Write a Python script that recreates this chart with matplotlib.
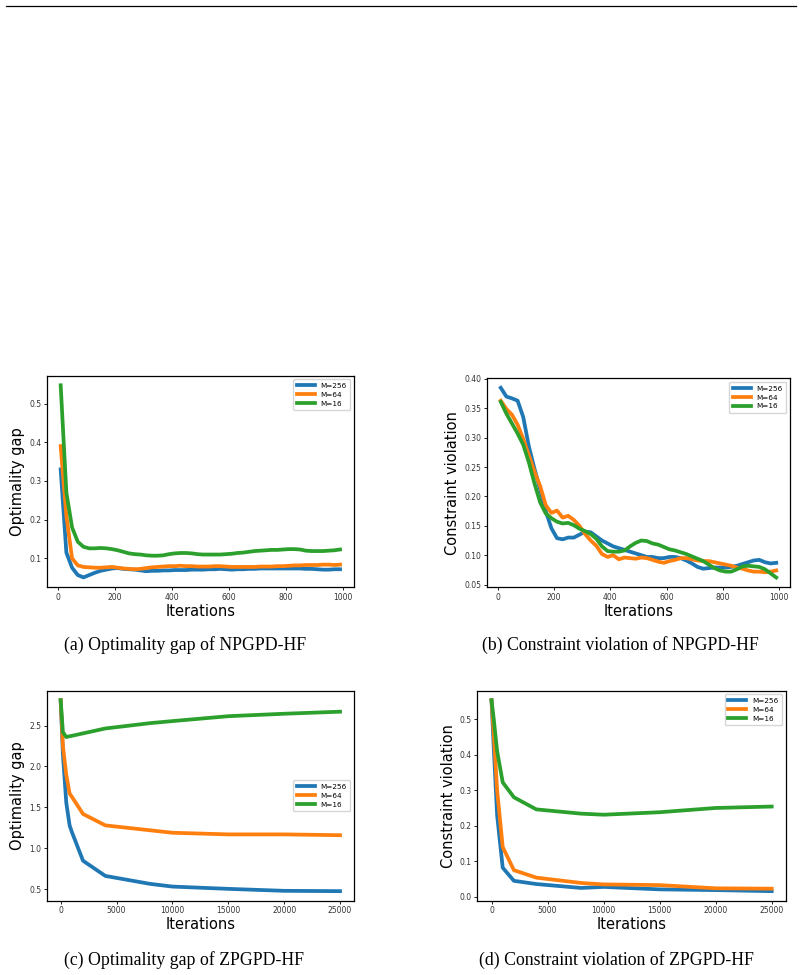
import numpy as np
import matplotlib
matplotlib.use("Agg")
import matplotlib.pyplot as plt
from matplotlib.lines import Line2D

# ---- data ----
labels = ["M=256", "M=64", "M=16"]
colors = ["#1f77b4", "#ff7f0e", "#2ca02c"]

it_np = list(range(10, 1000, 20))

# (a) optimality gap NPGPD-HF
opt_np_256 = [0.33, 0.115, 0.076, 0.057, 0.051, 0.057, 0.063, 0.068, 0.071, 0.074,
              0.075, 0.073, 0.072, 0.071, 0.069, 0.067, 0.068, 0.068, 0.069, 0.069,
              0.070, 0.070, 0.070, 0.071, 0.071, 0.071, 0.072, 0.072, 0.073, 0.072,
              0.071, 0.072, 0.072, 0.073, 0.073, 0.074, 0.074, 0.074, 0.074, 0.074,
              0.074, 0.074, 0.074, 0.073, 0.073, 0.072, 0.071, 0.071, 0.072, 0.072]
opt_np_64 = [0.39, 0.21, 0.10, 0.082, 0.078, 0.077, 0.076, 0.076, 0.077, 0.078,
             0.076, 0.074, 0.073, 0.072, 0.073, 0.075, 0.077, 0.078, 0.079, 0.080,
             0.080, 0.081, 0.080, 0.080, 0.079, 0.079, 0.079, 0.080, 0.080, 0.079,
             0.078, 0.078, 0.078, 0.078, 0.078, 0.079, 0.079, 0.079, 0.080, 0.080,
             0.081, 0.082, 0.082, 0.083, 0.083, 0.083, 0.084, 0.084, 0.083, 0.084]
opt_np_16 = [0.547, 0.27, 0.18, 0.143, 0.130, 0.126, 0.126, 0.127, 0.126, 0.124,
             0.121, 0.117, 0.113, 0.111, 0.110, 0.108, 0.107, 0.107, 0.108, 0.111,
             0.113, 0.114, 0.114, 0.113, 0.111, 0.110, 0.110, 0.110, 0.110, 0.111,
             0.112, 0.114, 0.115, 0.117, 0.119, 0.120, 0.121, 0.122, 0.122, 0.123,
             0.124, 0.124, 0.123, 0.120, 0.119, 0.119, 0.119, 0.120, 0.121, 0.123]

# (b) constraint violation NPGPD-HF
cv_np_256 = [0.385, 0.370, 0.367, 0.363, 0.335, 0.285, 0.247, 0.212, 0.175, 0.146,
             0.129, 0.127, 0.130, 0.130, 0.135, 0.140, 0.139, 0.132, 0.125, 0.120,
             0.115, 0.112, 0.109, 0.106, 0.103, 0.100, 0.097, 0.097, 0.095, 0.095,
             0.097, 0.097, 0.095, 0.091, 0.086, 0.080, 0.077, 0.078, 0.079, 0.079,
             0.079, 0.080, 0.082, 0.085, 0.088, 0.091, 0.092, 0.088, 0.086, 0.087]
cv_np_64 = [0.363, 0.349, 0.339, 0.322, 0.298, 0.270, 0.242, 0.218, 0.185, 0.172,
            0.176, 0.164, 0.167, 0.160, 0.150, 0.136, 0.125, 0.116, 0.102, 0.097,
            0.100, 0.093, 0.096, 0.095, 0.094, 0.096, 0.095, 0.092, 0.089, 0.087,
            0.090, 0.092, 0.095, 0.095, 0.093, 0.091, 0.090, 0.090, 0.088, 0.086,
            0.084, 0.082, 0.079, 0.077, 0.074, 0.072, 0.072, 0.071, 0.072, 0.074]
cv_np_16 = [0.361, 0.341, 0.324, 0.307, 0.288, 0.258, 0.222, 0.190, 0.171, 0.163,
            0.157, 0.154, 0.155, 0.151, 0.145, 0.141, 0.136, 0.128, 0.115, 0.107,
            0.106, 0.106, 0.108, 0.115, 0.121, 0.125, 0.124, 0.120, 0.118, 0.114,
            0.110, 0.108, 0.105, 0.102, 0.098, 0.094, 0.090, 0.084, 0.078, 0.074,
            0.072, 0.072, 0.076, 0.081, 0.082, 0.081, 0.080, 0.076, 0.069, 0.062]

# (c) optimality gap ZPGPD-HF
it_zo_c = [0, 200, 500, 800, 1000, 2000, 4000, 8000, 10000, 15000, 20000, 25000]
opt_zo_256 = [2.81, 2.15, 1.56, 1.28, 1.20, 0.848, 0.662, 0.565, 0.532, 0.504, 0.48, 0.476]
opt_zo_64 = [2.81, 2.25, 1.90, 1.67, 1.63, 1.42, 1.28, 1.22, 1.19, 1.17, 1.17, 1.16]
opt_zo_16 = [2.81, 2.42, 2.36, 2.37, 2.375, 2.405, 2.465, 2.53, 2.555, 2.615, 2.645, 2.67]

# (d) constraint violation ZPGPD-HF
it_zo_d = [0, 200, 500, 1000, 2000, 4000, 8000, 10000, 15000, 20000, 25000]
cv_zo_256 = [0.553, 0.42, 0.23, 0.082, 0.045, 0.036, 0.025, 0.028, 0.021, 0.019, 0.016]
cv_zo_64 = [0.553, 0.46, 0.30, 0.14, 0.075, 0.054, 0.039, 0.035, 0.033, 0.024, 0.023]
cv_zo_16 = [0.553, 0.50, 0.41, 0.322, 0.28, 0.246, 0.234, 0.231, 0.238, 0.25, 0.254]

captions = ["(a) Optimality gap of NPGPD-HF", "(b) Constraint violation of NPGPD-HF",
            "(c) Optimality gap of ZPGPD-HF", "(d) Constraint violation of ZPGPD-HF"]

W, H = 804, 975
fig = plt.figure(figsize=(W / 100, H / 100), dpi=100)


def ax_px(l, t, r, b):
    return fig.add_axes([l / W, 1 - b / H, (r - l) / W, (b - t) / H])


def panel(ax, x, series, ylabel, legloc):
    for y, lab, c in zip(series, labels, colors):
        ax.plot(x, y, color=c, lw=2.7, label=lab)
    ax.set_xlabel("Iterations", fontsize=10.5, labelpad=1.5)
    ax.set_ylabel(ylabel, fontsize=10.5, labelpad=3)
    ax.tick_params(labelsize=5.5, length=2, width=0.6, pad=2, labelcolor="#333333")
    for s in ax.spines.values():
        s.set_linewidth(0.9)
    ax.legend(loc=legloc, fontsize=5.2, handlelength=2.5, borderpad=0.5, labelspacing=0.4)


a = ax_px(46.7, 375.7, 354, 587)
panel(a, it_np, [opt_np_256, opt_np_64, opt_np_16], "Optimality gap", "upper right")
b = ax_px(487, 378.3, 790, 587)
panel(b, it_np, [cv_np_256, cv_np_64, cv_np_16], "Constraint violation", "upper right")
b.set_yticks([0.05, 0.10, 0.15, 0.20, 0.25, 0.30, 0.35, 0.40])
c = ax_px(46.7, 690.7, 354, 900.7)
panel(c, it_zo_c, [opt_zo_256, opt_zo_64, opt_zo_16], "Optimality gap", "center right")
d = ax_px(477.5, 690.7, 785.7, 900.7)
panel(d, it_zo_d, [cv_zo_256, cv_zo_64, cv_zo_16], "Constraint violation", "upper right")

# captions
for txt, xc, yc in zip(captions, [185, 620, 184, 616], [645, 645, 960, 960]):
    fig.text(xc / W, 1 - yc / H, txt, ha="center", va="center",
             family="Liberation Serif", fontsize=12.8)

# top rule
fig.add_artist(Line2D([6 / W, 796 / W], [1 - 6 / H, 1 - 6 / H], color="black", lw=0.9))

fig.savefig("out.png", dpi=100)
